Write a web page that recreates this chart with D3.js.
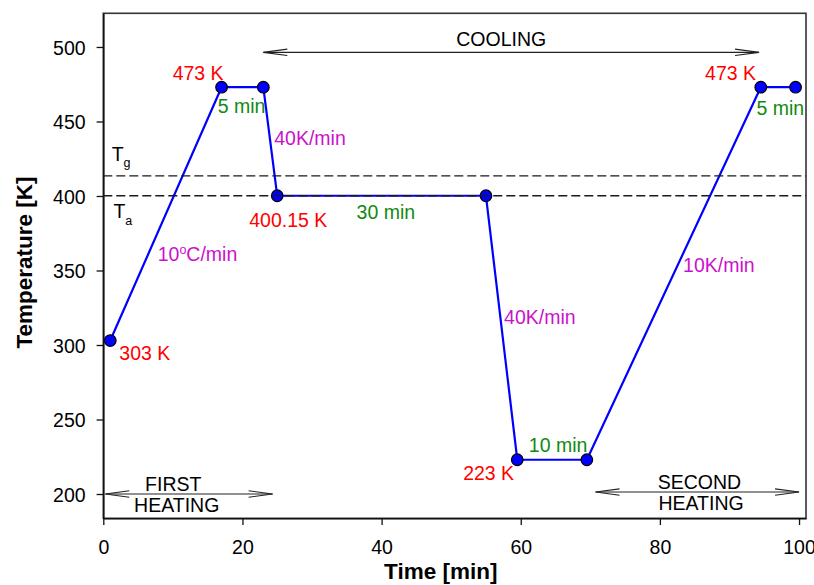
<!DOCTYPE html>
<html>
<head>
<meta charset="utf-8">
<script src="https://cdn.jsdelivr.net/npm/d3@7"></script>
<style>
  html, body { margin: 0; padding: 0; background: #fff; }
  svg { display: block; font-family: "Liberation Sans", Arial, Helvetica, sans-serif; }
</style>
</head>
<body>
<svg id="chart" width="814" height="585"></svg>
<script>
// Thermal protocol: time (min) vs. temperature (K)
const times = [1, 17, 23, 25, 55, 59.5, 69.5, 94.5, 99.5];
const temps = [303, 473, 473, 400.15, 400.15, 223, 223, 473, 473];

// Reference temperatures drawn as dashed lines
const refTemps = [413.5, 400.2];
const refNames = [["T", "g"], ["T", "a"]];
const refLabelTimes = [1.2, 1.45];
const refLabelTemps = [423.7, 385.0];

// Axis ticks
const xTicks = [0, 20, 40, 60, 80, 100];
const yTicks = [200, 250, 300, 350, 400, 450, 500];

// Step annotations: text, colour key, time, temperature (baseline start)
const stepTexts = ["473 K", "5 min", "40K/min", "400.15 K", "30 min", "10°C/min",
                   "303 K", "40K/min", "10K/min", "10 min", "223 K", "473 K", "5 min"];
const stepKinds = ["temp", "hold", "rate", "temp", "hold", "rate",
                   "temp", "rate", "rate", "hold", "temp", "temp", "hold"];
const stepTimes = [9.97, 16.44, 24.57, 20.98, 36.41, 7.82, 2.30, 57.61, 83.33, 61.16, 51.72, 86.49, 93.88];
const stepTempsAt = [477.9, 455.5, 434.2, 379.4, 384.4, 356.6, 289.9, 314.1, 348.8, 228.0, 209.4, 477.9, 454.4];

// Stage arrows: [from time, to time, at temperature] and their captions
const stageArrows = [[23.0, 94.25, 496.4], [0.29, 24.34, 200], [70.75, 100, 201.3]];
const stageCaptions = [
  [["COOLING", 57.2, 500.9]],
  [["FIRST", 10.06, 202.2], ["HEATING", 10.55, 188.1]],
  [["SECOND", 85.69, 203.2], ["HEATING", 85.92, 189.3]]
];

const colors = { temp: "#ff0000", hold: "#108a10", rate: "#cc11cc" };

const svg = d3.select("#chart");
const plot = { left: 103.3, right: 806, top: 13.3, bottom: 518.3 };

const x = d3.scaleLinear().domain([0, 101]).range([plot.left, plot.right]);
const y = d3.scaleLinear().domain([183.7, 522.6]).range([plot.bottom, plot.top]);

const FS = 19.5;

// Frame
svg.append("rect")
  .attr("x", plot.left).attr("y", plot.top)
  .attr("width", plot.right - plot.left).attr("height", plot.bottom - plot.top)
  .attr("fill", "none").attr("stroke", "#333").attr("stroke-width", 1.6);

// Axes
const xAxis = svg.append("g")
  .attr("transform", `translate(0,${plot.bottom})`)
  .call(d3.axisBottom(x).tickValues(xTicks).tickSize(6.7).tickPadding(15).tickSizeOuter(0));
const yAxis = svg.append("g")
  .attr("transform", `translate(${plot.left},0)`)
  .call(d3.axisLeft(y).tickValues(yTicks).tickSize(6.7).tickPadding(11).tickSizeOuter(0));

[xAxis, yAxis].forEach(g => {
  g.select(".domain").attr("stroke", "#111").attr("stroke-width", 1.6);
  g.selectAll(".tick line").attr("stroke", "#111").attr("stroke-width", 1.3);
  g.selectAll(".tick text")
    .attr("fill", "#000")
    .style("font-size", FS + "px")
    .style("font-family", '"Liberation Sans", Arial, sans-serif');
});
yAxis.selectAll(".tick text").attr("dy", "0.36em");

// Axis titles
svg.append("text")
  .attr("x", 440.8).attr("y", 579.3)
  .attr("text-anchor", "middle")
  .style("font-size", "22.5px").style("font-weight", "bold")
  .text("Time [min]");
svg.append("text")
  .attr("transform", `translate(31.5,${262.5}) rotate(-90)`)
  .attr("text-anchor", "middle")
  .style("font-size", "22.5px").style("font-weight", "bold")
  .text("Temperature [K]");

// Protocol line and points
const pts = times.map((t, i) => [t, temps[i]]);
svg.append("path")
  .datum(pts)
  .attr("fill", "none")
  .attr("stroke", "#0000ff")
  .attr("stroke-width", 2.2)
  .attr("stroke-linejoin", "round")
  .attr("d", d3.line().x(d => x(d[0])).y(d => y(d[1])));

svg.append("g").selectAll("circle")
  .data(pts).join("circle")
  .attr("cx", d => x(d[0])).attr("cy", d => y(d[1]))
  .attr("r", 5.8)
  .attr("fill", "#0000ff").attr("stroke", "#000").attr("stroke-width", 1.2);

// Reference dashed lines (on top)
svg.append("g").selectAll("line")
  .data(refTemps).join("line")
  .attr("x1", plot.left).attr("x2", plot.right)
  .attr("y1", d => y(d)).attr("y2", d => y(d))
  .attr("stroke", "#1a1a1a").attr("stroke-width", 1.4)
  .attr("stroke-dasharray", "9,4");

refNames.forEach((nm, i) => {
  const t = svg.append("text")
    .attr("x", x(refLabelTimes[i])).attr("y", y(refLabelTemps[i]))
    .style("font-size", FS + "px").attr("fill", "#000");
  t.append("tspan").text(nm[0]);
  t.append("tspan").attr("dy", 6.3).style("font-size", "12.5px").text(nm[1]);
});

// Step annotations
stepTexts.forEach((s, i) => {
  const t = svg.append("text")
    .attr("x", x(stepTimes[i])).attr("y", y(stepTempsAt[i]))
    .attr("fill", colors[stepKinds[i]])
    .style("font-size", FS + "px");
  if (s.includes("°")) {
    const [a, b] = s.split("°");
    t.append("tspan").text(a);
    t.append("tspan").attr("dy", -7).style("font-size", "12.5px").text("o");
    t.append("tspan").attr("dy", 7).text(b);
  } else {
    t.text(s);
  }
});

// Stage arrows with open chevron heads
const arrowG = svg.append("g").attr("stroke", "#222").attr("stroke-width", 1.1).attr("fill", "none");
stageArrows.forEach(([t0, t1, v]) => {
  const x0 = x(t0), x1 = x(t1), yy = y(v);
  arrowG.append("line").attr("x1", x0).attr("x2", x1).attr("y1", yy).attr("y2", yy);
  arrowG.append("path").attr("d", `M${x0 + 24},${yy - 3.2}L${x0},${yy}L${x0 + 24},${yy + 3.2}`);
  arrowG.append("path").attr("d", `M${x1 - 24},${yy - 3.2}L${x1},${yy}L${x1 - 24},${yy + 3.2}`);
});

stageCaptions.forEach(lines => {
  lines.forEach(([txt, t, v]) => {
    svg.append("text")
      .attr("x", x(t)).attr("y", y(v))
      .attr("text-anchor", "middle")
      .attr("fill", "#000")
      .style("font-size", FS + "px")
      .text(txt);
  });
});
</script>
</body>
</html>
